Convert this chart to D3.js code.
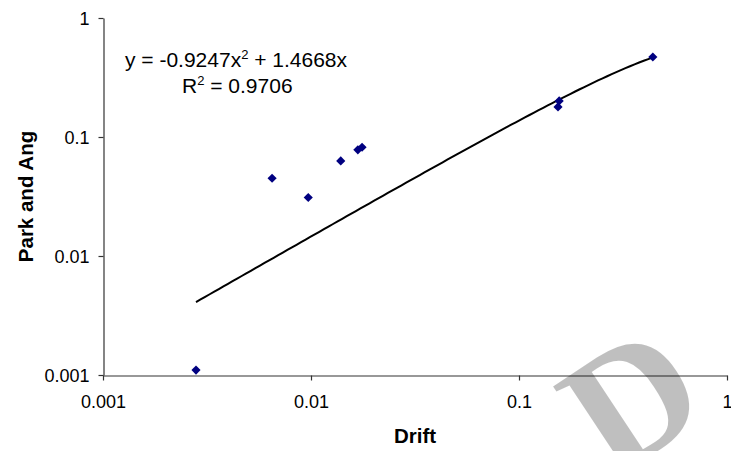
<!DOCTYPE html>
<html lang="en">
<head>
<meta charset="utf-8">
<title>Drift vs Park and Ang</title>
<script type="text/javascript" src="https://d3js.org/d3.v7.min.js"></script>
<style>
body { margin: 0; background: #ffffff; }
text { font-family: "Liberation Sans", Arial, sans-serif; }
</style>
</head>
<body>
<div id="container"></div>
<script type="text/javascript">
var w = 731;
var h = 451;

// data
var driftVals = [0.0028, 0.0065, 0.0097, 0.0139, 0.0168, 0.0176, 0.154, 0.156, 0.44];
var parkAngVals = [0.0011, 0.045, 0.031, 0.063, 0.078, 0.082, 0.179, 0.201, 0.47];
var tickVals = [0.001, 0.01, 0.1, 1];
var tickLabels = ["0.001", "0.01", "0.1", "1"];
// polynomial trendline y = a*x^2 + b*x
var trendA = -0.9247;
var trendB = 1.4668;
var trendR2 = "0.9706";

var svg = d3.select("div#container").append("svg")
    .attr("width", w).attr("height", h)
    .style("background-color", "#ffffff");

var x = d3.scaleLog().domain([0.001, 1]).range([103, 727]);
var y = d3.scaleLog().domain([0.001, 1]).range([375, 18]);

// axes
var xAxis = d3.axisBottom(x).tickValues(tickVals)
    .tickFormat(function(d, i) { return tickLabels[i]; })
    .tickSizeInner(5).tickSizeOuter(0).tickPadding(15);
var yAxis = d3.axisLeft(y).tickValues(tickVals)
    .tickFormat(function(d, i) { return tickLabels[i]; })
    .tickSizeInner(5).tickSizeOuter(0).tickPadding(9);

var gx = svg.append("g").attr("transform", "translate(0,375.5)").call(xAxis);
var gy = svg.append("g").attr("transform", "translate(103.5,0)").call(yAxis);
[gx, gy].forEach(function(g) {
    g.select(".domain").attr("stroke", "#333").attr("stroke-width", 1.2);
    g.selectAll(".tick line").attr("stroke", "#333").attr("stroke-width", 1.2);
    g.selectAll(".tick text").attr("fill", "#000").style("font-size", "18px")
        .style("font-family", "Liberation Sans, Arial, sans-serif");
});
gy.selectAll(".tick text").attr("dy", "0.36em");

// axis titles
svg.append("text")
    .attr("x", 415).attr("y", 443)
    .attr("text-anchor", "middle")
    .style("font-size", "20.5px").style("font-weight", "bold")
    .text("Drift");
svg.append("text")
    .attr("transform", "translate(33,196.5) rotate(-90)")
    .attr("text-anchor", "middle")
    .style("font-size", "20.5px").style("font-weight", "bold")
    .text("Park and Ang");

// trendline, evaluated from the fitted equation over the data range
var xMin = d3.min(driftVals), xMax = d3.max(driftVals);
var trendPts = d3.range(0, 101).map(function(i) {
    var xv = Math.pow(10, Math.log10(xMin) + (Math.log10(xMax) - Math.log10(xMin)) * i / 100);
    return [xv, trendA * xv * xv + trendB * xv];
});
svg.append("path")
    .datum(trendPts)
    .attr("fill", "none")
    .attr("stroke", "#000")
    .attr("stroke-width", 2)
    .attr("d", d3.line()
        .x(function(d) { return x(d[0]); })
        .y(function(d) { return y(d[1]); }));

// points
svg.selectAll("path.pt")
    .data(driftVals)
    .enter()
    .append("path")
    .attr("class", "pt")
    .attr("fill", "#000080")
    .attr("d", d3.symbol().type(d3.symbolSquare).size(42))
    .attr("transform", function(d, i) {
        return "translate(" + x(d) + "," + y(parkAngVals[i]) + ") rotate(45)";
    });

// trendline label
var eq = svg.append("text").attr("x", 125).attr("y", 66.5).style("font-size", "21px");
eq.append("tspan").text("y = " + trendA + "x");
eq.append("tspan").attr("dy", -8).style("font-size", "13px").text("2");
eq.append("tspan").attr("dy", 8).text(" + " + trendB + "x");
var r2 = svg.append("text").attr("x", 182).attr("y", 93).style("font-size", "21px");
r2.append("tspan").text("R");
r2.append("tspan").attr("dy", -8).style("font-size", "13px").text("2");
r2.append("tspan").attr("dy", 8).text(" = " + trendR2);

// watermark
svg.append("text")
    .attr("transform", "translate(612,481) rotate(-33.5)")
    .style("font-family", "Liberation Serif, Times New Roman, serif")
    .style("font-weight", "bold")
    .style("font-size", "170px")
    .attr("fill", "#000")
    .attr("fill-opacity", 0.25)
    .text("D");
</script>
</body>
</html>
